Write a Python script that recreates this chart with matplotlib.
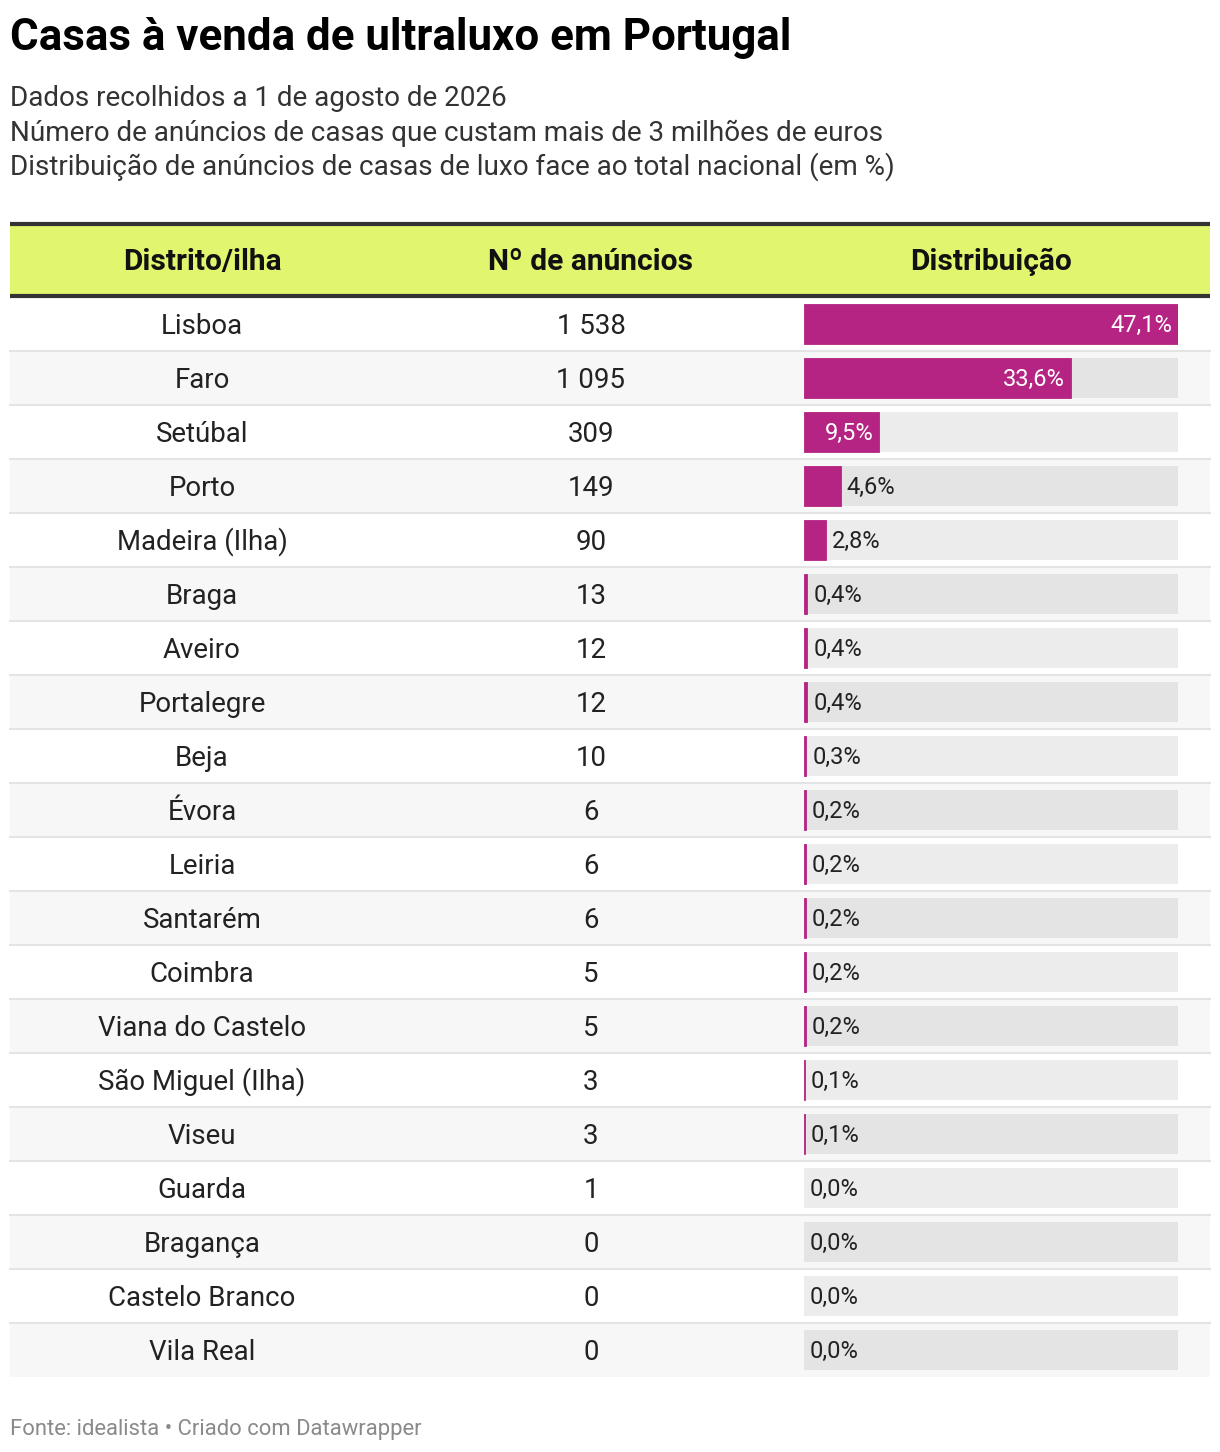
import matplotlib
matplotlib.use("Agg")
import matplotlib.pyplot as plt
from matplotlib.patches import Rectangle

plt.rcParams['font.family'] = ['Roboto', 'DejaVu Sans']

distritos = ["Lisboa", "Faro", "Setúbal", "Porto", "Madeira (Ilha)", "Braga", "Aveiro",
             "Portalegre", "Beja", "Évora", "Leiria", "Santarém", "Coimbra",
             "Viana do Castelo", "São Miguel (Ilha)", "Viseu", "Guarda", "Bragança",
             "Castelo Branco", "Vila Real"]
anuncios = [1538, 1095, 309, 149, 90, 13, 12, 12, 10, 6, 6, 6, 5, 5, 3, 3, 1, 0, 0, 0]
distribuicao = [47.1, 33.6, 9.5, 4.6, 2.8, 0.4, 0.4, 0.4, 0.3, 0.2, 0.2, 0.2, 0.2, 0.2,
                0.1, 0.1, 0.0, 0.0, 0.0, 0.0]
headers = ["Distrito/ilha", "Nº de anúncios", "Distribuição"]

title = "Casas à venda de ultraluxo em Portugal"
subtitle = ["Dados recolhidos a 1 de agosto de 2026",
            "Número de anúncios de casas que custam mais de 3 milhões de euros",
            "Distribuição de anúncios de casas de luxo face ao total nacional (em %)"]
footer = "Fonte: idealista • Criado com Datawrapper"

W, H = 1220, 1452
fig = plt.figure(figsize=(W / 100, H / 100), dpi=100)
ax = fig.add_axes([0, 0, 1, 1])
ax.set_xlim(0, W)
ax.set_ylim(H, 0)
ax.axis('off')

MAG = '#b52482'
TXT = '#222222'

ax.text(10, 38, title, fontsize=31.6, fontweight='bold', color='#000000', va='center', ha='left')
for i, s in enumerate(subtitle):
    ax.text(10, 99 + 34 * i, s, fontsize=20.1, color='#333333', va='center', ha='left')

# header
left, right = 10, 1210
ax.add_patch(Rectangle((left, 224), right - left, 71, facecolor='#e2f56e', edgecolor='none'))
ax.plot([left, right], [224, 224], color='#333333', lw=3, solid_capstyle='butt')
ax.plot([left, right], [295.5, 295.5], color='#333333', lw=3, solid_capstyle='butt')
col_x = [202, 591, 991]
for cx, h in zip(col_x, headers):
    ax.text(cx, 262, h, fontsize=21.5, fontweight='bold', color='#111111', ha='center', va='center')

row0 = 297
rh = 54
n = len(distritos)
for i in range(n):
    top = row0 + rh * i
    if i % 2 == 1:
        ax.add_patch(Rectangle((left, top), right - left, rh, facecolor='#f7f7f7', edgecolor='none', zorder=0))
    if i < n - 1:
        ax.plot([left, right], [top + rh, top + rh], color='#e4e4e4', lw=1.5, zorder=1)
    cy = top + rh / 2 + 2
    ax.text(col_x[0], cy, distritos[i], fontsize=19.9, color=TXT, ha='center', va='center')
    ax.text(col_x[1], cy, f"{anuncios[i]:,}".replace(',', ' '), fontsize=19.9, color=TXT,
            ha='center', va='center')

ax.text(10, 1429, footer, fontsize=15.8, color='#8a8a8a', ha='left', va='center')

# bar column
bx0, bx1 = 804, 1178
bax = fig.add_axes([bx0 / W, 1 - (row0 + rh * n) / H, (bx1 - bx0) / W, rh * n / H])
bax.set_xlim(0, max(distribuicao))
bax.set_ylim(n - 0.5, -0.5)
bax.axis('off')
bax.patch.set_alpha(0)
ypos = list(range(n))
bh = 40 / rh
bax.barh(ypos, [max(distribuicao)] * n, height=bh, color='black', alpha=0.075, linewidth=0)
edge = [MAG if v > 0 else 'none' for v in distribuicao]
bax.barh(ypos, distribuicao, height=bh, color=MAG, edgecolor=edge, linewidth=0.6)

px = max(distribuicao) / (bx1 - bx0)
for i, v in enumerate(distribuicao):
    lab = f"{v:.1f}%".replace('.', ',')
    if v >= 8:
        bax.text(v - 6 * px, i + 0.03, lab, color='white', fontsize=17, ha='right', va='center')
    else:
        bax.text(v + 6 * px, i + 0.03, lab, color=TXT, fontsize=17, ha='left', va='center')

fig.savefig('out.png', dpi=100)
